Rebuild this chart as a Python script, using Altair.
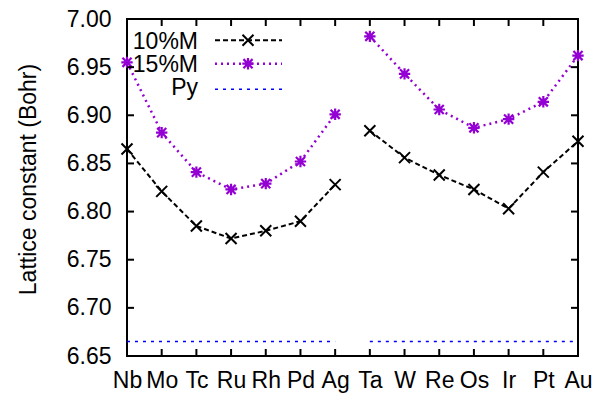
import json
import altair as alt
import pandas as pd

# ---- data ----
elements = ["Nb", "Mo", "Tc", "Ru", "Rh", "Pd", "Ag", "Ta", "W", "Re", "Os", "Ir", "Pt", "Au"]
groups = ["4d"] * 7 + ["5d"] * 7
m10 = [6.865, 6.821, 6.785, 6.772, 6.780, 6.790, 6.828, 6.884, 6.856, 6.838, 6.823, 6.803, 6.841, 6.873]
m15 = [6.955, 6.882, 6.841, 6.823, 6.829, 6.852, 6.901, 6.982, 6.943, 6.906, 6.887, 6.896, 6.914, 6.962]
py_value = 6.665
y_ticks = [6.65, 6.70, 6.75, 6.80, 6.85, 6.90, 6.95, 7.00]
legend_names = ["10%M", "15%M", "Py"]

idx = list(range(len(elements)))
df = pd.DataFrame({
    "idx": idx,
    "element": elements,
    "group": groups,
    "m10": m10,
    "m15": m15,
    "py": [py_value] * len(elements),
})
ydf = pd.DataFrame({"yt": y_ticks})

W, H = 451, 337
FONT = "Liberation Sans"
FS = 23
BLACK = "#000000"
PURPLE = "#9400d3"
BLUE = "#0000ff"
X_SHAPE = "M-1,-1L1,1M-1,1L1,-1"
STAR_SHAPE = "M-1,0L1,0M0,-1L0,1M-0.8,-0.8L0.8,0.8M-0.8,0.8L0.8,-0.8"
TL = 7  # inward tick length

label_expr = json.dumps(elements) + "[datum.value]"
xscale = alt.Scale(domain=[0, len(elements) - 1], nice=False, zero=False)
yscale = alt.Scale(domain=[y_ticks[0], y_ticks[-1]], nice=False, zero=False)

x_axis = alt.Axis(values=idx, labelExpr=label_expr, title=None, grid=False, domain=False,
                  ticks=False, labelPadding=13, labelOverlap=False, labelBound=False,
                  labelFlush=False,
                  labelFont=FONT, labelFontSize=FS, labelColor=BLACK)
y_axis = alt.Axis(values=y_ticks, format=".2f", title="Lattice constant (Bohr)", grid=False,
                  domain=False, ticks=False, labelPadding=16, labelOverlap=False,
                  labelFlush=False,
                  labelFont=FONT, labelFontSize=FS, labelColor=BLACK,
                  titleFont=FONT, titleFontSize=FS, titleFontWeight="normal", titleColor=BLACK,
                  titleAngle=270, titleBaseline="alphabetic", titleAlign="center",
                  titleX=-92, titleY=160)


def X():
    return alt.X("idx:Q", scale=xscale, axis=x_axis)


def Y(field):
    return alt.Y(field, scale=yscale, axis=y_axis, title="Lattice constant (Bohr)")


base = alt.Chart(df)

py_line = base.mark_line(color=BLUE, strokeWidth=1.5, strokeDash=[3, 5]).encode(
    x=X(), y=Y("py:Q"), detail="group:N",
)
l15 = base.mark_line(color=PURPLE, strokeWidth=2.5, strokeDash=[2, 4]).encode(
    x=X(), y=Y("m15:Q"), detail="group:N",
)
p15 = base.mark_point(shape=STAR_SHAPE, filled=False, color=PURPLE, size=130, strokeWidth=2.2, opacity=1).encode(
    x=X(), y=Y("m15:Q"),
)
l10 = base.mark_line(color=BLACK, strokeWidth=2, strokeDash=[5, 3]).encode(
    x=X(), y=Y("m10:Q"), detail="group:N",
)
p10 = base.mark_point(shape=X_SHAPE, filled=False, color=BLACK, size=121, strokeWidth=2, opacity=1).encode(
    x=X(), y=Y("m10:Q"),
)

# ---- inward ticks on all four sides (gnuplot style) ----
rule_style = dict(color=BLACK, strokeWidth=2)
xt_bottom = base.mark_rule(**rule_style).encode(
    x=X(), y=alt.value(H), y2=alt.value(H - TL))
xt_top = base.mark_rule(**rule_style).encode(
    x=X(), y=alt.value(0), y2=alt.value(TL))
yt_left = alt.Chart(ydf).mark_rule(**rule_style).encode(
    y=Y("yt:Q"), x=alt.value(0), x2=alt.value(TL))
yt_right = alt.Chart(ydf).mark_rule(**rule_style).encode(
    y=Y("yt:Q"), x=alt.value(W - TL), x2=alt.value(W))

# ---- legend (top-left, gnuplot style) ----
leg_text_y = [29.5, 52.8, 76]
leg_line_y = [21.3, 44.7, 70.3]
leg_styles = [
    dict(color=BLACK, strokeWidth=2, strokeDash=[5, 3]),
    dict(color=PURPLE, strokeWidth=2.5, strokeDash=[2, 4]),
    dict(color=BLUE, strokeWidth=1.5, strokeDash=[3, 5]),
]
leg_layers = []
for i, name in enumerate(legend_names):
    ldf = pd.DataFrame({"name": [name]})
    lc = alt.Chart(ldf)
    leg_layers.append(lc.mark_text(align="right", baseline="alphabetic", font=FONT, fontSize=FS, color=BLACK).encode(
        text="name:N", x=alt.value(71), y=alt.value(leg_text_y[i])))
    leg_layers.append(lc.mark_rule(**leg_styles[i]).encode(
        x=alt.value(88), x2=alt.value(155), y=alt.value(leg_line_y[i])))
leg_layers.append(alt.Chart(pd.DataFrame({"name": [legend_names[0]]})).mark_point(
    shape=X_SHAPE, filled=False, color=BLACK, size=121, strokeWidth=2, opacity=1).encode(
    x=alt.value(121), y=alt.value(leg_line_y[0])))
leg_layers.append(alt.Chart(pd.DataFrame({"name": [legend_names[1]]})).mark_point(
    shape=STAR_SHAPE, filled=False, color=PURPLE, size=130, strokeWidth=2.2, opacity=1).encode(
    x=alt.value(121), y=alt.value(leg_line_y[1])))

chart = alt.layer(py_line, l15, l10, p15, p10, xt_bottom, xt_top, yt_left, yt_right, *leg_layers).properties(
    width=W, height=H,
    padding={"left": 127, "top": 19, "right": 33, "bottom": 37},
    autosize=alt.AutoSizeParams(type="none"),
    background="white",
).configure_view(stroke=BLACK, strokeWidth=2)

chart.save("out.html", embed_options={"renderer": "svg", "actions": False})
